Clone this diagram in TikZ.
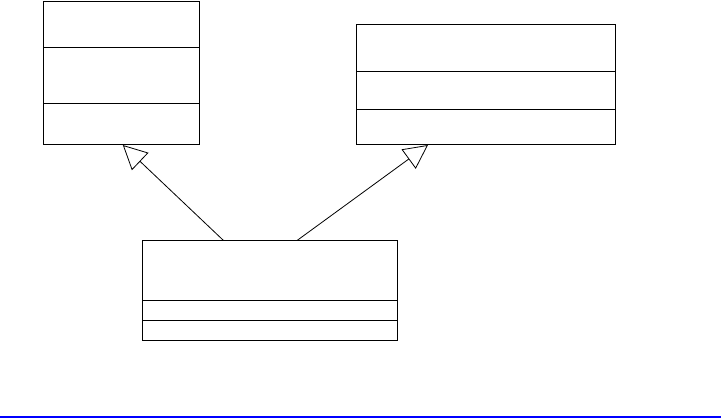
\documentclass[tikz,border=0pt]{standalone}
\usetikzlibrary{arrows.meta,calc}
\begin{document}
\begin{tikzpicture}[x=1pt,y=-1pt,
  classbox/.style={draw=black,line width=1pt,rectangle,inner sep=0pt,anchor=north west},
  divider/.style={draw=black,line width=1pt},
  gen/.style={draw=black,line width=0.8pt,-{Triangle[open,length=24pt,width=24pt,fill=white]}}]
\useasboundingbox (0,0) rectangle (721,418);
\node[classbox,minimum width=156pt,minimum height=143.5pt] (a) at (43.3,0.5) {};
\node[classbox,minimum width=259.3pt,minimum height=119.7pt] (b) at (356,24.3) {};
\node[classbox,minimum width=255pt,minimum height=100pt] (c) at (142.3,240.3) {};
\draw[divider] ($(a.north west)+(0,46.8)$) -- ($(a.north east)+(0,46.8)$);
\draw[divider] ($(a.north west)+(0,102.8)$) -- ($(a.north east)+(0,102.8)$);
\draw[divider] ($(b.north west)+(0,47)$) -- ($(b.north east)+(0,47)$);
\draw[divider] ($(b.north west)+(0,85)$) -- ($(b.north east)+(0,85)$);
\draw[divider] ($(c.north west)+(0,60)$) -- ($(c.north east)+(0,60)$);
\draw[divider] ($(c.north west)+(0,80)$) -- ($(c.north east)+(0,80)$);
\coordinate (c1) at ($(c.north west)+(81,0)$);
\coordinate (c2) at ($(c.north west)+(155,0)$);
\coordinate (a1) at ($(a.south west)+(79.5,0)$);
\coordinate (b1) at ($(b.south west)+(72,0)$);
\draw[gen] (c1) -- (a1);
\draw[gen] (c2) -- (b1);
\fill[blue] (0,415.7) rectangle (721,418);
\end{tikzpicture}
\end{document}
